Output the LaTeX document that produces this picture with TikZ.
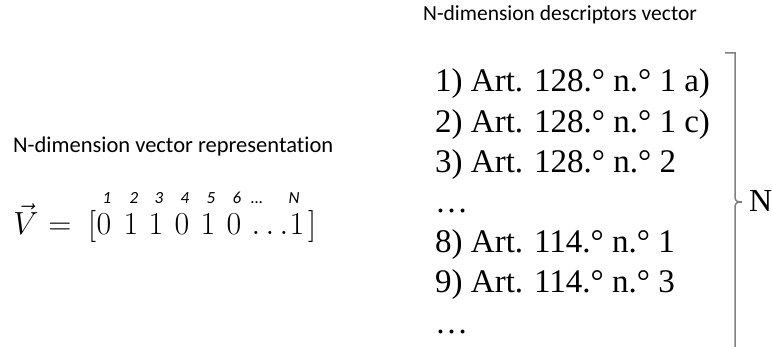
\RequirePackage{fix-cm}
\documentclass[tikz,border=0pt]{standalone}
\usepackage{fontspec}
\setmainfont{Liberation Serif}
\newfontfamily\titlefont[Ligatures=NoCommon]{Carlito}
\usepackage{tikz}

\begin{document}
\begin{tikzpicture}[x=1pt,y=-1pt,
    title/.style={font=\titlefont\fontsize{21.5}{21.5}\selectfont,anchor=base west,inner sep=0},
    item/.style={font=\fontsize{33}{33}\selectfont,anchor=base west,inner sep=0},
    digit/.style={font=\fontsize{32}{32}\selectfont,anchor=base,inner sep=0},
    index/.style={font=\titlefont\itshape\fontsize{17}{17}\selectfont,anchor=base,inner sep=0},
    brace/.style={draw=gray,line width=1.5pt}]
  \useasboundingbox (0,0) rectangle (772,347);
  % titles
  \node[title,font=\titlefont\fontsize{22.5}{22.5}\selectfont] (vectitle) at (13,153) {N-dimension vector representation};
  \node[title] (desctitle) at (423,21) {N-dimension descriptors vector};
  % vector
  \node[digit] (vec) at (26,235) {$\vec{V}$};
  \node[digit] (eq) at (60,235) {$=$};
  \node[digit] (lbr) at (92,235) {$[$};
  \foreach \val/\xx [count=\i] in {0/104,1/131,1/156,0/182,1/208,0/234}{
    \node[digit] (d\i) at (\xx,235) {$\val$};
    \node[index] (i\i) at (\xx+3,204) {\i};
  }
  \node[digit] (ddots) at (270,235) {$\dots$};
  \node[index] (idots) at (257,204) {\ldots};
  \node[digit] (dN) at (297,235) {$1$};
  \node[index] (iN) at (294,204) {N};
  \node[digit] (rbr) at (312,235) {$]$};
  % descriptors
  \foreach \txt [count=\k from 0] in {1) Art. 128.° n.° 1 a),2) Art. 128.° n.° 1 c),3) Art. 128.° n.° 2,…,8) Art. 114.° n.° 1,9) Art. 114.° n.° 3,…}
    \node[item] (item\k) at (435,92+40.2*\k) {\txt};
  % brace
  \node[item,font=\fontsize{32}{32}\selectfont] (Nlbl) at (749,212) {N};
  \draw[brace] (725,53) -- (735,53) -- (735,197)
    .. controls (735,201) and (737,202) .. (742,202)
    .. controls (737,202) and (735,203) .. (735,207) -- (735,351);
\end{tikzpicture}
\end{document}
